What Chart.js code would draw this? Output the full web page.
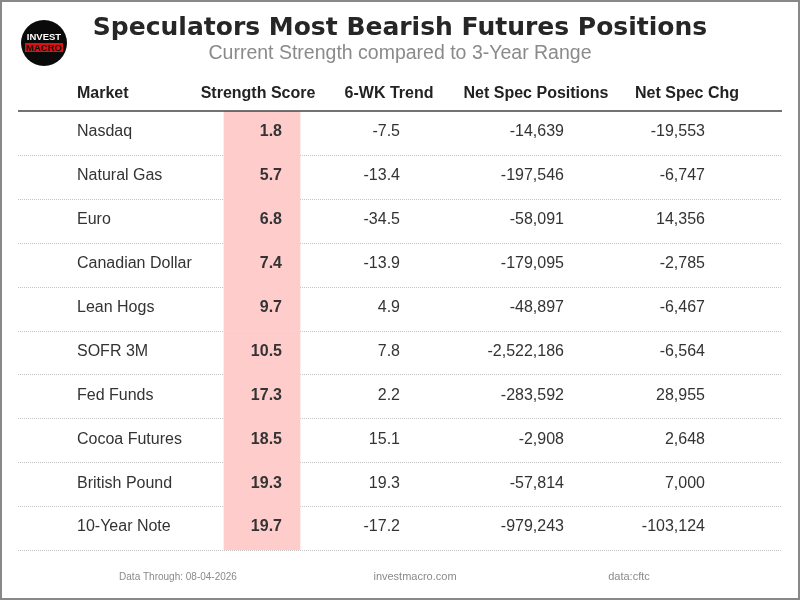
<!DOCTYPE html>
<html>
<head>
<meta charset="utf-8">
<script src="https://cdn.jsdelivr.net/npm/chart.js@4"></script>
<style>
  html, body { margin: 0; padding: 0; background: #fff; }
  #wrap { width: 800px; height: 600px; position: relative; box-sizing: border-box; border: 2px solid #888; }
  canvas { position: absolute; left: -2px; top: -2px; }
</style>
</head>
<body>
<div id="wrap"><canvas id="tableChart" width="800" height="600"></canvas></div>
<script>
// table data
const markets = ["Nasdaq", "Natural Gas", "Euro", "Canadian Dollar", "Lean Hogs",
  "SOFR 3M", "Fed Funds", "Cocoa Futures", "British Pound", "10-Year Note"];
const strengthScores = [1.8, 5.7, 6.8, 7.4, 9.7, 10.5, 17.3, 18.5, 19.3, 19.7];
const sixWeekTrend = [-7.5, -13.4, -34.5, -13.9, 4.9, 7.8, 2.2, 15.1, 19.3, -17.2];
const netSpecPositions = [-14639, -197546, -58091, -179095, -48897, -2522186, -283592, -2908, -57814, -979243];
const netSpecChg = [-19553, -6747, 14356, -2785, -6467, -6564, 28955, 2648, 7000, -103124];
const headers = ["Market", "Strength Score", "6-WK Trend", "Net Spec Positions", "Net Spec Chg"];

// column layout (pixels on the x scale)
const highlightCol = [224, 300];
const FONT = "'Liberation Sans', Arial, sans-serif";

function fmtInt(v) {
  return v.toLocaleString("en-US");
}

const tablePlugin = {
  id: "tableText",
  beforeDatasetsDraw(chart) {
    const { ctx, chartArea, scales } = chart;
    const rowH = scales.y.getPixelForValue(1) - scales.y.getPixelForValue(0);
    ctx.save();
    // dotted row separators
    ctx.strokeStyle = "#c4c4c4";
    ctx.lineWidth = 1;
    ctx.setLineDash([1, 1]);
    for (let i = 0; i < markets.length; i++) {
      const yy = Math.round(scales.y.getPixelForValue(i) + rowH / 2) + 0.5;
      ctx.beginPath();
      ctx.moveTo(chartArea.left, yy);
      ctx.lineTo(chartArea.right, yy);
      ctx.stroke();
    }
    ctx.restore();
  },
  afterDatasetsDraw(chart) {
    const { ctx, chartArea, scales } = chart;
    const x = scales.x;
    ctx.save();

    // header underline
    ctx.strokeStyle = "#444";
    ctx.lineWidth = 1.5;
    ctx.beginPath();
    ctx.moveTo(chartArea.left, chartArea.top);
    ctx.lineTo(chartArea.right, chartArea.top);
    ctx.stroke();

    // title + subtitle
    ctx.textBaseline = "middle";
    ctx.textAlign = "center";
    ctx.fillStyle = "#262626";
    ctx.font = "bold 25px 'DejaVu Sans', sans-serif";
    ctx.fillText("Speculators Most Bearish Futures Positions", 400, 28);
    ctx.fillStyle = "#8a8a8a";
    ctx.font = "19.5px " + FONT;
    ctx.fillText("Current Strength compared to 3-Year Range", 400, 54);

    // headers
    ctx.fillStyle = "#222";
    ctx.font = "bold 16px " + FONT;
    ctx.textAlign = "left";
    ctx.fillText(headers[0], x.getPixelForValue(77), 94);
    ctx.textAlign = "center";
    ctx.fillText(headers[1], x.getPixelForValue(258), 94);
    ctx.fillText(headers[2], x.getPixelForValue(389), 94);
    ctx.fillText(headers[3], x.getPixelForValue(536), 94);
    ctx.fillText(headers[4], x.getPixelForValue(687), 94);

    // rows
    markets.forEach((m, i) => {
      const y = scales.y.getPixelForValue(i) - 1;
      ctx.fillStyle = "#333";
      ctx.font = "16px " + FONT;
      ctx.textAlign = "left";
      ctx.fillText(m, x.getPixelForValue(77), y);
      ctx.textAlign = "right";
      ctx.font = "bold 16px " + FONT;
      ctx.fillText(strengthScores[i].toFixed(1), x.getPixelForValue(282), y);
      ctx.font = "16px " + FONT;
      ctx.fillText(sixWeekTrend[i].toFixed(1), x.getPixelForValue(400), y);
      ctx.fillText(fmtInt(netSpecPositions[i]), x.getPixelForValue(564), y);
      ctx.fillText(fmtInt(netSpecChg[i]), x.getPixelForValue(705), y);
    });

    // footer
    ctx.fillStyle = "#8a8a8a";
    ctx.textAlign = "center";
    ctx.font = "10px " + FONT;
    ctx.fillText("Data Through: 08-04-2026", 178, 577);
    ctx.font = "11px " + FONT;
    ctx.fillText("investmacro.com", 415, 577);
    ctx.fillText("data:cftc", 629, 577);

    // logo
    ctx.fillStyle = "#0a0a0a";
    ctx.beginPath();
    ctx.arc(44, 43, 23, 0, Math.PI * 2);
    ctx.fill();
    ctx.fillStyle = "#fff";
    ctx.font = "bold 9.5px " + FONT;
    ctx.fillText("INVEST", 44, 37);
    ctx.fillStyle = "#e01010";
    ctx.fillRect(25, 43, 38, 9);
    ctx.fillStyle = "#111";
    ctx.fillText("MACRO", 44, 48);

    ctx.restore();
  }
};

const ctx = document.getElementById("tableChart").getContext("2d");
new Chart(ctx, {
  type: "bar",
  data: {
    labels: markets,
    datasets: [
      {
        label: "Strength Score",
        data: strengthScores.map(() => highlightCol),
        backgroundColor: "#ffcccc",
        borderWidth: 0,
        barPercentage: 1,
        categoryPercentage: 1,
      },
    ],
  },
  options: {
    indexAxis: "y",
    responsive: false,
    animation: false,
    layout: { padding: { top: 111, bottom: 50, left: 18, right: 18 } },
    scales: {
      x: { type: "linear", min: 18, max: 782, display: false },
      y: { type: "category", display: false, offset: true },
    },
    plugins: {
      legend: { display: false },
      tooltip: { enabled: false },
    },
  },
  plugins: [tablePlugin],
});
</script>
</body>
</html>
